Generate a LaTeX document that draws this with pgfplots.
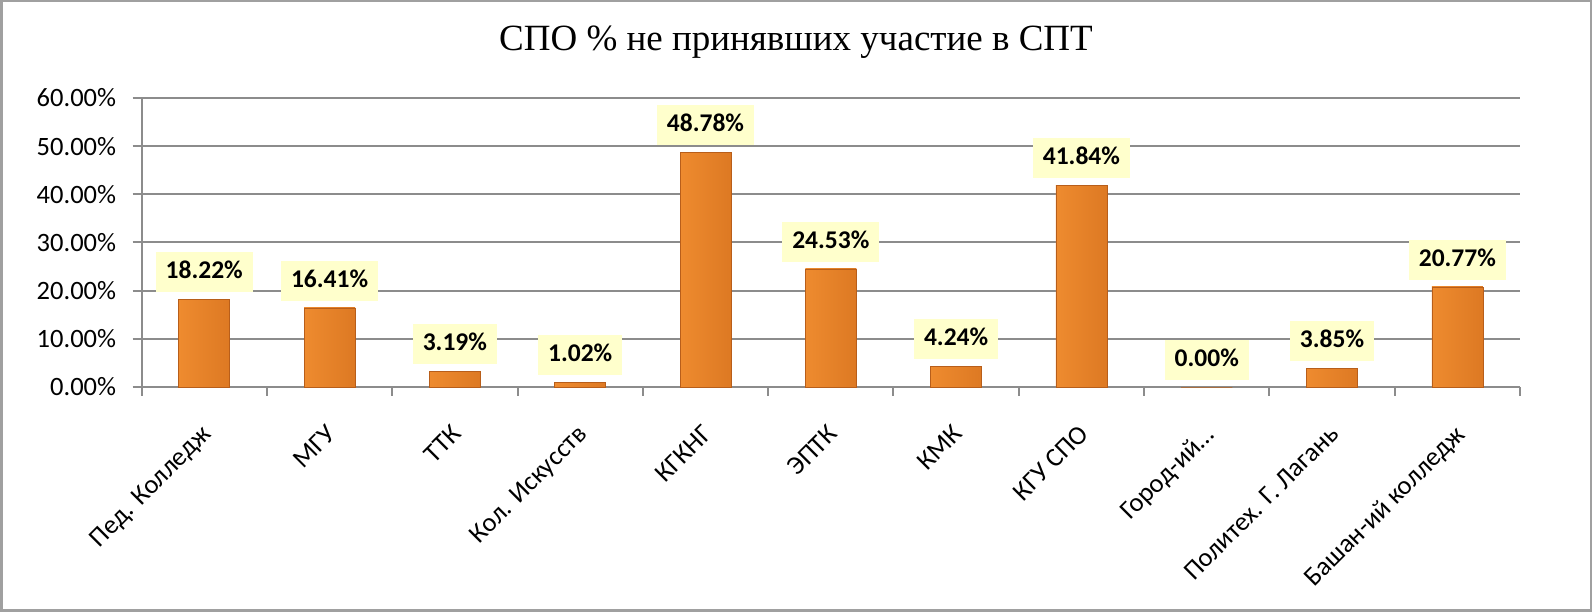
\documentclass[border=0pt]{standalone}
\usepackage{pgfplots}
\pgfplotsset{compat=1.18}
\usepackage{fontspec}
\setmainfont{Carlito}
\newfontfamily\titlefont{Liberation Serif}
\definecolor{gridc}{HTML}{8C8C8C}
\definecolor{framec}{HTML}{A0A0A0}
\definecolor{lblbg}{HTML}{FFFFCC}
\definecolor{barL}{HTML}{EE8B2F}
\definecolor{barM}{HTML}{FFA03C}
\definecolor{barR}{HTML}{DD7923}
\definecolor{barD}{HTML}{B85E1A}
\pgfplotsset{mybar/.style={draw=barD, line width=0.6bp, left color=barL, middle color=barM, right color=barR, bar shift=0pt}}
\begin{document}
\begin{tikzpicture}[x=1bp,y=1bp]
\path[use as bounding box] (0,0) rectangle (1592,612);
\draw[framec,line width=2.5bp] (1.25,1.25) rectangle (1590.75,610.75);
\node[font=\titlefont\fontsize{37bp}{42bp}\selectfont] at (796,570) {СПО \% не принявших участие в СПТ};
\begin{axis}[
  at={(141.6bp,225bp)}, anchor=south west,
  scale only axis, width=1378.4bp, height=289bp,
  xmin=-0.5, xmax=10.5, ymin=0, ymax=60,
  ytick={0,10,20,30,40,50,60},
  xtick={0,1,2,3,4,5,6,7,8,9,10},
  minor xtick={-0.5,0.5,1.5,2.5,3.5,4.5,5.5,6.5,7.5,8.5,9.5,10.5},
  xticklabels={{Пед. Колледж}, {МГУ}, {ТТК}, {Кол. Искусств}, {КГКНГ}, {ЭПТК}, {КМК}, {КГУ СПО}, {Город-ий…}, {Политех. Г. Лагань}, {Башан-ий колледж}},
  axis lines*=left,
  axis line style={gridc, line width=2bp},
  ymajorgrids, major grid style={gridc, line width=2bp},
  tick align=outside,
  major x tick style={draw=none},
  major tick length=9bp, minor tick length=9bp,
  every tick/.style={gridc, line width=2bp},
  /pgf/number format/assume math mode=true,
  yticklabel={\pgfmathprintnumber[fixed,zerofill,precision=2]{\tick}\%},
  yticklabel style={font=\fontsize{26.5bp}{30bp}\selectfont, xshift=-13bp},
  xticklabel style={font=\fontsize{26.5bp}{30bp}\selectfont, xshift=-4bp, yshift=-24.5bp, rotate=45, anchor=north east, inner sep=2bp},
  ybar, bar width=51bp,
  nodes near coords={\pgfmathprintnumber[fixed,zerofill,precision=2]{\pgfplotspointmeta}\%},
  every node near coord/.append style={font=\bfseries\fontsize{25.5bp}{30bp}\selectfont, fill=lblbg, anchor=south, yshift=7bp, inner xsep=10bp, text height=17bp, text depth=4bp, inner ysep=9.5bp, /pgf/number format/assume math mode=true},
  clip=false,
]
\addplot[mybar] coordinates {(0,18.22)};
\addplot[mybar] coordinates {(1,16.41)};
\addplot[mybar] coordinates {(2,3.19)};
\addplot[mybar] coordinates {(3,1.02)};
\addplot[mybar] coordinates {(4,48.78)};
\addplot[mybar] coordinates {(5,24.53)};
\addplot[mybar] coordinates {(6,4.24)};
\addplot[mybar] coordinates {(7,41.84)};
\addplot[mybar] coordinates {(8,0.00)};
\addplot[mybar] coordinates {(9,3.85)};
\addplot[mybar] coordinates {(10,20.77)};
\end{axis}
\end{tikzpicture}
\end{document}
